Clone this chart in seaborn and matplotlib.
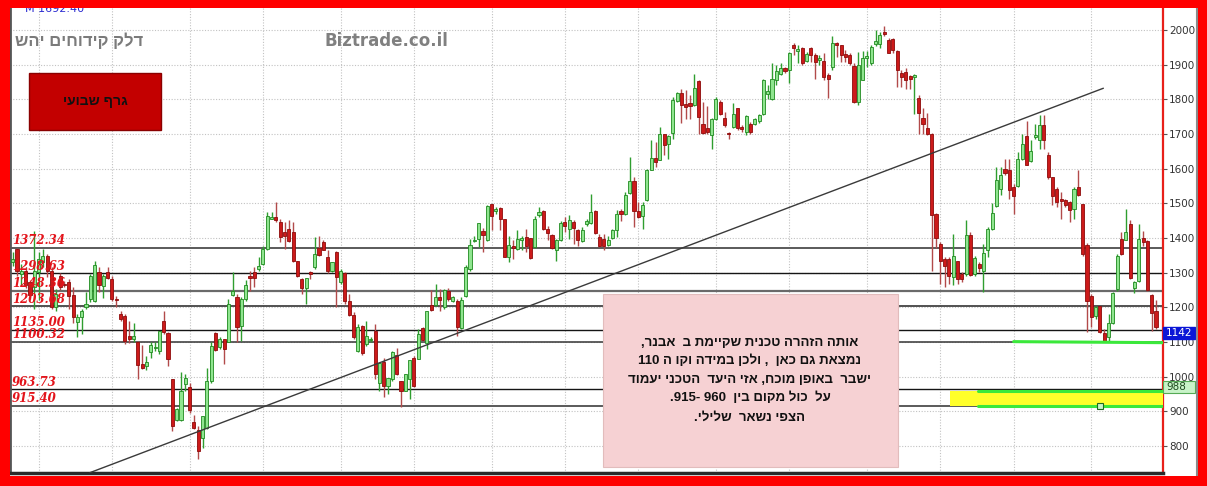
import re
import numpy as np
import pandas as pd
import matplotlib
matplotlib.use("Agg")
import matplotlib.pyplot as plt
from matplotlib.patches import Rectangle
from matplotlib.lines import Line2D
import seaborn as sns

# ---------------- weekly OHLC ----------------
opens = [
    1330, 1368, 1295, 1306, 1272, 1258, 1301, 1330, 1349, 1306,
    1200, 1289, 1267, 1272, 1236, 1158, 1173, 1202, 1224, 1219,
    1301, 1262, 1301, 1282, 1224, 1182, 1176, 1118, 1108, 1099,
    1036, 1031, 1070, 1084, 1075, 1161, 1125, 993, 874, 874,
    980, 969, 870, 845, 824, 851, 988, 1125, 1085, 1108,
    1099, 1236, 1229, 1147, 1224, 1289, 1301, 1311, 1325, 1369,
    1455, 1460, 1447, 1417, 1427, 1417, 1333, 1282, 1256, 1303,
    1317, 1371, 1388, 1346, 1306, 1359, 1272, 1298, 1219, 1179,
    1075, 1147, 1094, 1106, 1132, 983, 1041, 973, 993, 1063,
    988, 959, 993, 1053, 1051, 1139, 1096, 1208, 1208, 1229,
    1200, 1248, 1219, 1219, 1140, 1234, 1311, 1391, 1398, 1420,
    1395, 1499, 1478, 1487, 1455, 1346, 1378, 1369, 1393, 1404,
    1400, 1373, 1465, 1477, 1426, 1409, 1366, 1393, 1446, 1426,
    1446, 1424, 1391, 1439, 1443, 1478, 1404, 1398, 1380, 1400,
    1422, 1479, 1470, 1530, 1564, 1477, 1462, 1510, 1597, 1632,
    1626, 1699, 1672, 1703, 1796, 1819, 1786, 1788, 1783, 1853,
    1730, 1716, 1696, 1742, 1793, 1747, 1700, 1720, 1776, 1720,
    1706, 1730, 1730, 1738, 1757, 1815, 1802, 1855, 1873, 1889,
    1884, 1957, 1940, 1947, 1911, 1947, 1928, 1913, 1911, 1870,
    1894, 1963, 1957, 1931, 1928, 1896, 1793, 1857, 1918, 1904,
    1960, 1960, 1995, 1971, 1973, 1940, 1876, 1878, 1867, 1863,
    1805, 1745, 1718, 1701, 1470, 1383, 1340, 1340, 1287, 1333,
    1296, 1296, 1409, 1296, 1325, 1306, 1366, 1426, 1491, 1542,
    1600, 1597, 1547, 1549, 1629, 1693, 1622, 1691, 1684, 1725,
    1638, 1576, 1542, 1513, 1510, 1503, 1484, 1547, 1497, 1381,
    1234, 1176, 1205, 1125, 1115, 1156, 1253, 1397, 1395, 1441,
    1256, 1275, 1400, 1391, 1236, 1188,
]
highs = [
    1360, 1372, 1325, 1315, 1280, 1421, 1360, 1369, 1355, 1315,
    1252, 1300, 1275, 1282, 1258, 1180, 1195, 1243, 1296, 1333,
    1315, 1296, 1315, 1290, 1234, 1190, 1180, 1160, 1155, 1104,
    1090, 1060, 1099, 1099, 1131, 1190, 1130, 993, 910, 1012,
    1009, 983, 890, 858, 887, 1026, 1099, 1128, 1115, 1110,
    1224, 1301, 1238, 1230, 1279, 1306, 1317, 1345, 1378, 1475,
    1475, 1503, 1455, 1446, 1451, 1446, 1335, 1285, 1285, 1306,
    1402, 1407, 1395, 1364, 1330, 1362, 1311, 1301, 1238, 1186,
    1152, 1150, 1161, 1113, 1152, 1041, 1055, 997, 1075, 1084,
    988, 1009, 1048, 1060, 1137, 1142, 1190, 1250, 1267, 1253,
    1253, 1256, 1234, 1224, 1229, 1321, 1398, 1407, 1443, 1430,
    1494, 1499, 1489, 1489, 1455, 1407, 1393, 1422, 1407, 1426,
    1400, 1462, 1489, 1480, 1436, 1412, 1398, 1449, 1460, 1465,
    1451, 1426, 1431, 1455, 1528, 1480, 1412, 1412, 1407, 1426,
    1480, 1484, 1533, 1634, 1576, 1503, 1503, 1600, 1682, 1677,
    1720, 1701, 1696, 1807, 1822, 1831, 1826, 1812, 1873, 1855,
    1793, 1780, 1747, 1807, 1797, 1764, 1706, 1788, 1776, 1725,
    1754, 1735, 1745, 1759, 1860, 1841, 1904, 1899, 1904, 1894,
    1937, 1962, 1957, 1952, 1937, 1952, 1933, 1928, 1933, 1875,
    1982, 1966, 1957, 1942, 1933, 1904, 1937, 1940, 1940, 1957,
    2000, 1995, 2011, 1976, 1976, 1942, 1884, 1889, 1870, 1872,
    1812, 1774, 1761, 1703, 1472, 1388, 1345, 1345, 1412, 1335,
    1301, 1453, 1417, 1349, 1330, 1383, 1431, 1501, 1605, 1605,
    1629, 1629, 1557, 1648, 1701, 1738, 1682, 1728, 1754, 1754,
    1648, 1576, 1547, 1532, 1513, 1508, 1547, 1595, 1497, 1385,
    1239, 1205, 1205, 1137, 1180, 1243, 1354, 1417, 1484, 1453,
    1277, 1439, 1419, 1395, 1238, 1221,
]
lows = [
    1320, 1290, 1262, 1255, 1224, 1195, 1220, 1315, 1287, 1195,
    1190, 1250, 1260, 1195, 1156, 1113, 1123, 1195, 1214, 1214,
    1243, 1227, 1282, 1218, 1200, 1160, 1093, 1098, 1100, 992,
    1022, 1020, 1055, 1075, 1065, 1123, 1031, 843, 872, 872,
    958, 896, 848, 761, 795, 848, 983, 1074, 1080, 1036,
    1099, 1233, 1099, 1104, 1219, 1248, 1258, 1306, 1323, 1364,
    1455, 1446, 1388, 1369, 1388, 1330, 1287, 1238, 1210, 1282,
    1311, 1349, 1364, 1300, 1301, 1202, 1267, 1210, 1176, 1108,
    1070, 1063, 1089, 1099, 993, 959, 940, 951, 988, 1005,
    911, 959, 935, 970, 1051, 1103, 1079, 1188, 1205, 1190,
    1195, 1219, 1214, 1118, 1137, 1229, 1306, 1388, 1373, 1359,
    1392, 1422, 1470, 1422, 1346, 1330, 1340, 1364, 1364, 1359,
    1340, 1371, 1460, 1422, 1395, 1369, 1335, 1390, 1417, 1398,
    1383, 1378, 1388, 1436, 1441, 1412, 1373, 1366, 1378, 1398,
    1402, 1450, 1465, 1528, 1431, 1458, 1426, 1508, 1595, 1605,
    1624, 1638, 1629, 1687, 1793, 1732, 1742, 1742, 1780, 1699,
    1701, 1701, 1658, 1740, 1754, 1720, 1687, 1718, 1711, 1706,
    1696, 1701, 1725, 1732, 1754, 1802, 1799, 1841, 1870, 1875,
    1846, 1928, 1904, 1899, 1908, 1908, 1860, 1899, 1855, 1805,
    1884, 1923, 1908, 1908, 1899, 1788, 1783, 1855, 1894, 1899,
    1954, 1947, 1983, 1933, 1933, 1836, 1836, 1831, 1831, 1759,
    1701, 1701, 1696, 1306, 1371, 1267, 1258, 1267, 1263, 1267,
    1272, 1291, 1291, 1291, 1301, 1243, 1345, 1424, 1489, 1523,
    1583, 1513, 1468, 1547, 1626, 1610, 1619, 1687, 1658, 1658,
    1571, 1494, 1489, 1455, 1489, 1446, 1455, 1520, 1349, 1128,
    1142, 1166, 1125, 1100, 1103, 1152, 1248, 1352, 1393, 1282,
    1240, 1272, 1378, 1248, 1132, 1137,
]
closes = [
    1340, 1306, 1305, 1264, 1236, 1306, 1340, 1349, 1306, 1200,
    1238, 1258, 1265, 1234, 1173, 1173, 1188, 1210, 1291, 1323,
    1265, 1289, 1285, 1224, 1222, 1166, 1104, 1108, 1118, 1034,
    1024, 1041, 1092, 1086, 1131, 1128, 1050, 858, 906, 959,
    997, 903, 851, 785, 887, 988, 1089, 1076, 1108, 1079,
    1210, 1248, 1144, 1224, 1265, 1285, 1285, 1318, 1369, 1462,
    1460, 1452, 1402, 1407, 1391, 1333, 1289, 1256, 1285, 1296,
    1354, 1352, 1366, 1304, 1330, 1287, 1304, 1219, 1179, 1113,
    1142, 1068, 1118, 1106, 1007, 1038, 973, 995, 1070, 1007,
    959, 1009, 1048, 973, 1123, 1105, 1188, 1192, 1229, 1221,
    1250, 1224, 1229, 1142, 1221, 1316, 1380, 1395, 1443, 1410,
    1491, 1462, 1484, 1455, 1346, 1380, 1370, 1397, 1400, 1378,
    1343, 1455, 1475, 1426, 1414, 1371, 1395, 1443, 1436, 1452,
    1429, 1395, 1422, 1449, 1475, 1414, 1378, 1378, 1393, 1424,
    1470, 1470, 1523, 1564, 1479, 1460, 1494, 1595, 1632, 1619,
    1699, 1667, 1693, 1799, 1819, 1783, 1778, 1780, 1834, 1749,
    1703, 1705, 1742, 1802, 1759, 1725, 1699, 1757, 1716, 1713,
    1751, 1706, 1742, 1754, 1857, 1825, 1860, 1882, 1889, 1882,
    1934, 1947, 1944, 1905, 1931, 1928, 1908, 1918, 1863, 1860,
    1963, 1957, 1928, 1923, 1904, 1793, 1899, 1918, 1925, 1950,
    1969, 1986, 1988, 1935, 1942, 1886, 1865, 1857, 1860, 1870,
    1761, 1730, 1701, 1465, 1400, 1335, 1318, 1291, 1349, 1282,
    1282, 1409, 1294, 1343, 1314, 1356, 1426, 1472, 1568, 1581,
    1587, 1539, 1520, 1629, 1672, 1612, 1651, 1696, 1725, 1684,
    1576, 1520, 1503, 1508, 1494, 1481, 1542, 1523, 1354, 1219,
    1171, 1202, 1128, 1104, 1156, 1240, 1349, 1354, 1417, 1285,
    1272, 1397, 1388, 1250, 1183, 1142,
]

# ---------------- annotations ----------------
level_values = [1372.34, 1298.63, 1248.36, 1203.68, 1135.00, 1100.32, 963.73, 915.40]
level_labels = ["1372.34", "1298.63", "1248.36", "1203.68", "1135.00", "1100.32", "963.73", "915.40"]

trend_x = [17.9, 252.8]
trend_y = [723, 1832]

support_x = [232, 266.6]
support_y = [1101, 1098]

zone_low, zone_high = 915, 960
zone_x = [217.3, 266.6]
zone_line_x = [223.8, 266.6]
zone_marker = (252, 915)

side_value = 988
header_value = "M 1692.40"
y_ticks = list(range(800, 2001, 100))
grid_weeks = [6, 23, 41, 58, 76, 93, 111, 128, 145, 163, 180, 198, 215, 232, 250]

title_he = "דלק קידוחים יהש"
site_name = "Biztrade.co.il"
badge_he = "גרף שבועי"
note_lines = [
    "אותה הזהרה טכנית שקיימת ב  אבנר,",
    "נמצאת גם כאן  , ולכן במידה וקו ה 110",
    "ישבר  באופן מוכח, אזי היעד  הטכני יעמוד",
    "על  כול מקום בין  960 -915.",
    "הצפי נשאר  שלילי.",
]


def rtl(s):
    """Visual order for a right-to-left line: reverse, keeping digit runs LTR."""
    r = s[::-1]
    return re.sub(r"[0-9]+", lambda m: m.group(0)[::-1], r)


HEB = ["Liberation Sans", "DejaVu Sans"]

sns.set_theme(style="white")
plt.rcParams["font.family"] = ["DejaVu Sans"]

W, H = 1207, 486
fig = plt.figure(figsize=(W / 100, H / 100), dpi=100, facecolor="white")
L, R, T, B = 10, 1163, 8, 473
ax = fig.add_axes([L / W, 1 - B / H, (R - L) / W, (B - T) / H])
ax.set_facecolor("white")

n = len(closes)
first_px, last_px = 12.7, 1156.0
step = (last_px - first_px) / (n - 1)
xmin = -(first_px - L) / step
xmax = (n - 1) + (R - last_px) / step
ymin, ymax = 722, 2063.5
ax.set_xlim(xmin, xmax)
ax.set_ylim(ymin, ymax)
upp = (ymax - ymin) / (B - T)  # data units per pixel

df = pd.DataFrame({"week": np.arange(n), "open": opens, "high": highs,
                   "low": lows, "close": closes})
up = (df["close"] >= df["open"]).to_numpy()

# grid
ax.set_axisbelow(True)
ax.set_xticks(grid_weeks)
ax.set_yticks(y_ticks)
ax.grid(True, color="#c2c2c2", linestyle=(0, (1, 1.5)), linewidth=0.8)

# horizontal levels with labels
lvl_styles = [("#5a5a5a", 1.4), ("#151515", 1.0), ("#6a6a6a", 1.6), ("#333333", 1.2),
              ("#151515", 1.0), ("#444444", 1.2), ("#151515", 1.0), ("#5a5a5a", 1.4)]
ytrans = ax.get_yaxis_transform()
for v, lbl, (c, lw) in zip(level_values, level_labels, lvl_styles):
    ax.axhline(v, color=c, lw=lw, zorder=2)
    ax.annotate(lbl, xy=(0.0017, v), xycoords=ytrans, xytext=(0, 2.5),
                textcoords="offset points", ha="left", va="baseline",
                color="#e3141b", fontsize=8.5, fontweight="bold",
                fontstyle="italic", family="DejaVu Serif", zorder=9)

# candles
body_lo = np.minimum(df["open"], df["close"])
body_h = np.maximum((df["close"] - df["open"]).abs(), 2.5)
wick_col = np.where(up, "#2f9e2f", "#b24a4a")
fill_col = np.where(up, "#8fe58f", "#cc1a1a")
edge_col = np.where(up, "#1f8a1f", "#8e0b0b")
ax.vlines(df["week"], df["low"], df["high"], colors=wick_col, lw=1.0, zorder=3)
ax.bar(df["week"], body_h, bottom=body_lo, width=0.72, color=fill_col,
       edgecolor=edge_col, linewidth=0.6, zorder=4)

# trend line
sns.lineplot(x=trend_x, y=trend_y, ax=ax, color="#3a3a3a", lw=1.0, zorder=5)

# target zone
ax.fill_between(zone_x, zone_low, zone_high, color="#ffff2a", lw=0, zorder=5)
sns.lineplot(x=zone_line_x, y=[zone_high, zone_high], ax=ax, color="#3be83b", lw=2.2, zorder=6)
sns.lineplot(x=zone_line_x, y=[zone_low, zone_low], ax=ax, color="#3be83b", lw=2.2, zorder=6)
sns.lineplot(x=support_x, y=support_y, ax=ax, color="#3be83b", lw=2.2, zorder=6)
ax.plot([zone_marker[0]], [zone_marker[1]], marker="s", ms=4, mfc="#c8f5c8",
        mec="#1f6a1f", mew=0.8, zorder=7)


# note box
def ax_px(xp, yp):
    return (xp - L) / (R - L), (B - yp) / (B - T)


bx0, by0 = ax_px(603, 467)
bx1, by1 = ax_px(898, 294)
ax.add_patch(Rectangle((bx0, by0), bx1 - bx0, by1 - by0, transform=ax.transAxes,
                       facecolor="#f6d1d3", edgecolor="#e2bcbc", lw=0.8, zorder=8))
for line, yp in zip(note_lines, [342.7, 361.2, 379.7, 398.2, 417.5]):
    tx, ty = ax_px(750, yp)
    ax.text(tx, ty, rtl(line), transform=ax.transAxes, ha="center", va="center",
            fontsize=9.5, fontweight="bold", color="#111111", family=HEB, zorder=9)

# axis styling
ax.yaxis.tick_right()
ax.tick_params(axis="y", which="major", direction="out", length=3, width=0.8,
               color="#555555", labelsize=7.5, labelcolor="#333333", pad=1.5,
               right=True, left=False)
ax.tick_params(axis="x", length=0, labelbottom=False)
ax.spines["top"].set_visible(False)
ax.spines["left"].set(color="#555555", lw=2)
ax.spines["right"].set(color="#e8201a", lw=1.6)
ax.spines["bottom"].set(color="#2a2a2a", lw=2.5)
ax.set_xlabel("")
ax.set_ylabel("")

# price tags on the axis
box_w = 32 / (R - L)
box_h = 12 * upp
last_price = closes[-1]
ax.add_patch(Rectangle((1.0, last_price - box_h), box_w, box_h, transform=ytrans,
                       clip_on=False, facecolor="#0b16d6", edgecolor="#0b16d6", zorder=10))
ax.text(1.0 + box_w / 2, last_price - box_h / 2, f"{last_price:.0f}", transform=ytrans,
        ha="center", va="center", color="white", fontsize=7.5, clip_on=False, zorder=11)
ax.add_patch(Rectangle((1.0, side_value - box_h), box_w, box_h, transform=ytrans,
                       clip_on=False, facecolor="#c8f3c8", edgecolor="#55aa55",
                       lw=0.8, zorder=10))
ax.text(1.0 + 3 / (R - L), side_value - box_h / 2, f"{side_value}", transform=ytrans,
        ha="left", va="center", color="#1f4a1f", fontsize=7.5, clip_on=False, zorder=11)

# headings
fig.text(15 / W, 1 - 41 / H, rtl(title_he), ha="left", va="center", fontsize=12,
         fontweight="bold", color="#7b7b7b", family=HEB)
fig.text(324 / W, 1 - 41 / H, site_name, ha="left", va="center", fontsize=12,
         fontweight="bold", color="#808080")
fig.patches.append(Rectangle((29 / W, 1 - 130 / H), 132 / W, 57 / H, transform=fig.transFigure,
                             facecolor="#c30000", edgecolor="#8a0000", lw=1, zorder=5))
fig.text(95 / W, 1 - 101 / H, rtl(badge_he), ha="center", va="center", fontsize=10,
         fontweight="bold", color="#111111", family=HEB, zorder=6)
fig.text(25 / W, 1 - 12 / H, header_value, ha="left", va="baseline", fontsize=8,
         color="#2a2ad0", zorder=6)

# outer frame
fig.add_artist(Line2D([1196.5 / W] * 2, [1 - 476 / H, 1 - 8 / H], color="#8a8a8a",
                      lw=1.5, transform=fig.transFigure, zorder=15))
for (x0, y0, w, h) in [(0, 0, 10, H), (1198, 0, W - 1198, H), (0, 0, W, 8), (0, 476, W, H - 476)]:
    fig.patches.append(Rectangle((x0 / W, 1 - (y0 + h) / H), w / W, h / H,
                                 transform=fig.transFigure, facecolor="#ff0000",
                                 edgecolor="none", zorder=20))

fig.savefig("out.png", dpi=100, facecolor="white")
